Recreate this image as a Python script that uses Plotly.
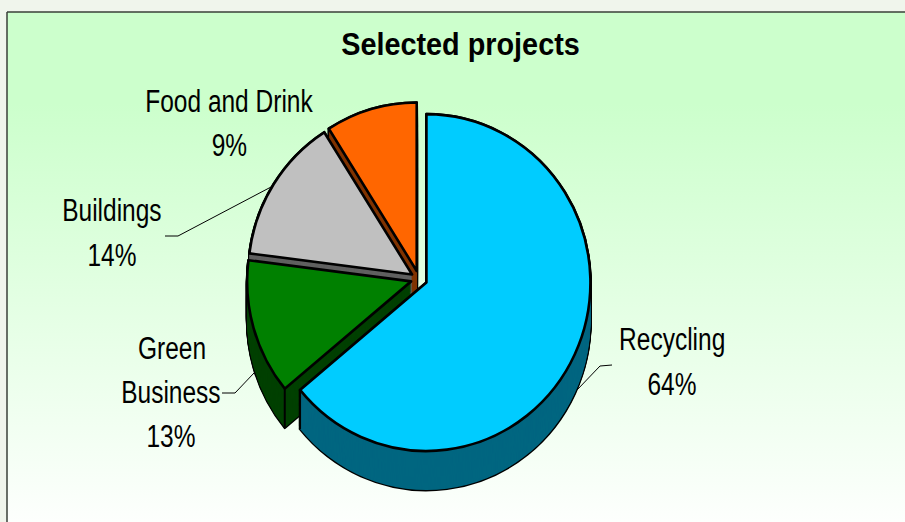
import base64, math
import plotly.graph_objects as go

categories = ["Recycling", "Green Business", "Buildings", "Food and Drink"]
values = [64, 13, 14, 9]
top_colors = ["#00CCFF", "#008000", "#C0C0C0", "#FF6600"]
side_colors = ["#006680", "#004000", "#606060", "#803300"]

W, H = 905, 522
CX, CY = 419, 279
R = 164
PULL = 0.05
DEPTH = 38
SY = 1.027
CLEAR = "rgba(0,0,0,0)"

def pie(offset, colors, lw):
    half = R * (1 + PULL)
    cy = CY + offset
    return go.Pie(
        labels=categories, values=values, sort=False, direction="clockwise", rotation=0,
        pull=[PULL] * 4, textinfo="none", hoverinfo="skip", showlegend=False,
        domain=dict(x=[(CX - half) / W, (CX + half) / W],
                    y=[1 - (cy + half) / H, 1 - (cy - half) / H]),
        marker=dict(colors=colors, line=dict(color="#000000", width=lw)),
    )

def only(idx, palette):
    return [palette[i] if i in idx else CLEAR for i in range(4)]

def widths(idx, w):
    return [w if i in idx else 0 for i in range(4)]

traces = []
for group in ([1, 2, 3], [0]):
    for d in range(DEPTH, -1, -1):
        traces.append(pie(d, only(group, ["#000000"] * 4), widths(group, 2.6)))
    for d in range(DEPTH, -1, -1):
        traces.append(pie(d, only(group, side_colors), 0))
    traces.append(pie(0, only(group, top_colors), widths(group, 2.6)))

fig = go.Figure(traces)

svg = ('<svg xmlns="http://www.w3.org/2000/svg" width="898" height="510" preserveAspectRatio="none">'
       '<defs><linearGradient id="g" x1="0" y1="0" x2="0" y2="1">'
       '<stop offset="0" stop-color="#CCFFCC"/><stop offset="0.18" stop-color="#CCFFCC"/>'
       '<stop offset="1" stop-color="#FDFFFD"/></linearGradient></defs>'
       '<rect width="898" height="510" fill="url(#g)"/></svg>')
src = "data:image/svg+xml;base64," + base64.b64encode(svg.encode()).decode()

def px_x(x): return x / W
def px_y(y): return 1 - y / H

shapes = [
    dict(type="line", xref="paper", yref="paper", x0=px_x(7), x1=px_x(7), y0=px_y(12), y1=px_y(522),
         line=dict(color="#3A3F38", width=1.5)),
    dict(type="line", xref="paper", yref="paper", x0=px_x(7), x1=1, y0=px_y(12), y1=px_y(12),
         line=dict(color="#3A3F38", width=1.5)),
]
for a, b, c in [((165, 236), (178, 236), (271, 187)),
                ((222, 393), (235, 393), (254, 373)),
                ((612, 365), (600, 366), (577, 390))]:
    for p, q in ((a, b), (b, c)):
        shapes.append(dict(type="line", xref="paper", yref="paper", x0=px_x(p[0]), y0=px_y(p[1]),
                           x1=px_x(q[0]), y1=px_y(q[1]), line=dict(color="#000000", width=1)))

# vertical edges of the extruded sides, at the slice corners derived from the values
total = sum(values)
cum = 0
for i, v in enumerate(values):
    start, end = cum / total * 2 * math.pi, (cum + v) / total * 2 * math.pi
    cum += v
    mid = (start + end) / 2
    ox, oy = CX + R * PULL * math.sin(mid), CY - R * PULL * math.cos(mid)
    corners = [end] if i == 0 else [start] if i == 1 else []
    for ang in corners:
        x, y = ox + R * math.sin(ang), oy - R * math.cos(ang)
        y_top = CY + (y - CY) * SY
        shapes.append(dict(type="line", xref="paper", yref="paper", x0=px_x(x), x1=px_x(x),
                           y0=px_y(y_top), y1=px_y(y_top + DEPTH * SY), line=dict(color="#000000", width=2)))

title_text = "Selected projects"
label_lines = [("Food and Drink", 229, 102), ("9%", 229, 146),
               ("Buildings", 112, 210), ("14%", 112, 255),
               ("Green", 172, 348), ("Business", 171, 392), ("13%", 171, 436),
               ("Recycling", 672, 340), ("64%", 672, 384)]
annotations = [dict(text=t, x=px_x(x), y=px_y(y), xref="paper", yref="paper", showarrow=False,
                    xanchor="center", yanchor="middle",
                    font=dict(family="Liberation Sans", size=31, color="#000000"))
               for t, x, y in label_lines]
annotations.append(dict(text="<b>" + title_text + "</b>", x=px_x(460), y=px_y(44), xref="paper", yref="paper",
                        showarrow=False, xanchor="center", yanchor="middle",
                        font=dict(family="Liberation Sans", size=32, color="#000000")))

fig.update_layout(
    width=W, height=H, margin=dict(l=0, r=0, t=0, b=0), autosize=False,
    paper_bgcolor="#F0F5EC", plot_bgcolor="rgba(0,0,0,0)",
    images=[dict(source=src, xref="paper", yref="paper", x=px_x(7), y=px_y(12),
                 sizex=px_x(898), sizey=510 / H, sizing="stretch", xanchor="left", yanchor="top",
                 layer="below")],
    shapes=shapes, annotations=annotations,
)

post = """
document.documentElement.style.overflow = 'hidden';
document.body.style.margin = '0';
var gd = document.getElementById('{plot_id}');
function squeeze() {
  gd.querySelectorAll('.annotation-text').forEach(function (t) {
    if (t.getAttribute('textLength')) return;
    var bold = t.querySelector('[style*="bold"]') !== null;
    var ratio = bold ? 0.90 : 0.79;
    t.setAttribute('textLength', t.getComputedTextLength() * ratio);
    t.setAttribute('lengthAdjust', 'spacingAndGlyphs');
  });
  var layer = gd.querySelector('.pielayer');
  if (layer) layer.setAttribute('transform', 'translate(0,' + (-CYV * (SYV - 1)) + ') scale(1,' + SYV + ')');
}
var CYV = __CY__, SYV = __SY__;
gd.on('plotly_afterplot', squeeze);
squeeze();
setTimeout(squeeze, 200);
""".replace("__CY__", str(CY)).replace("__SY__", str(SY))
fig.write_html("out.html", post_script=post, config={"displayModeBar": False})
